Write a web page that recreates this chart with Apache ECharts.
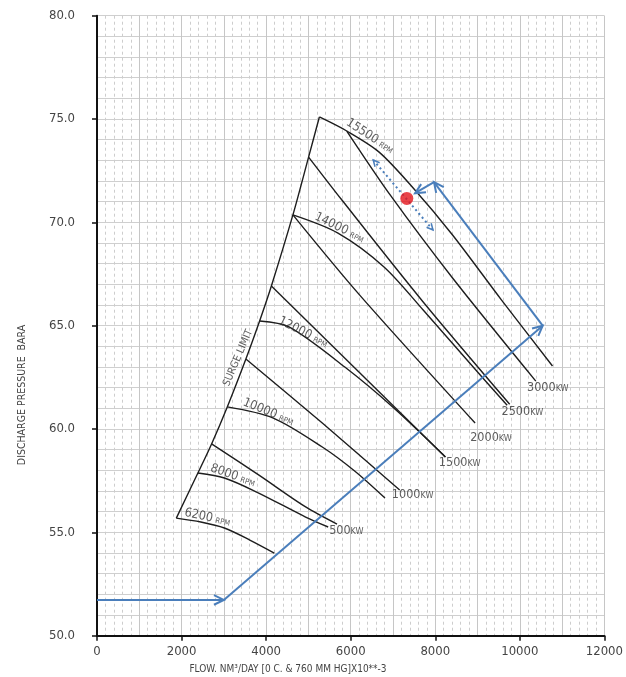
<!DOCTYPE html>
<html>
<head>
<meta charset="utf-8">
<script src="https://cdn.jsdelivr.net/npm/echarts@6/dist/echarts.min.js"></script>
<style>
  html, body { margin: 0; padding: 0; background: #fff; overflow: hidden; width: 626px; height: 677px; }
  #chart { position: absolute; left: 0; top: 0; width: 626px; height: 677px; }
</style>
</head>
<body>
<div id="chart"></div>
<script>
// Compressor performance map: discharge pressure vs. flow

// Axis ticks
const flowTicks = [0, 2000, 4000, 6000, 8000, 10000, 12000];
const pressureTicks = [50, 55, 60, 65, 70, 75, 80];

// Surge limit line [flow, pressure]
const surgeLimit = [[1876, 55.69], [2386, 57.87], [2710, 59.28], [3081, 61.07], [3521, 63.39],
  [3846, 65.23], [4124, 66.92], [4633, 70.36], [5004, 73.16], [5259, 75.10]];

// Speed curves
const rpm6200 = [[1876, 55.69], [2456, 55.50], [3012, 55.21], [3614, 54.63], [4193, 54.00]];
const rpm8000 = [[2386, 57.87], [3012, 57.63], [3776, 56.95], [4934, 55.74], [5467, 55.26]];
const rpm10000 = [[3081, 61.07], [4170, 60.53], [5328, 59.13], [6093, 57.97], [6811, 56.66]];
const rpm12000 = [[3846, 65.23], [4541, 64.94], [5861, 63.00], [7019, 61.02], [8240, 58.65]];
const rpm14000 = [[4633, 70.36], [5699, 69.48], [6788, 67.84], [7714, 65.76], [9104, 62.52], [9700, 61.15]];
const rpm15500 = [[5259, 75.10], [5907, 74.42], [6672, 73.40], [7483, 71.65], [8409, 69.39], [9568, 66.24], [10772, 63.05]];

// Power lines
const kw500 = [[2710, 59.28], [3822, 57.78], [4934, 56.23], [5676, 55.40]];
const kw1000 = [[3521, 63.39], [5328, 60.29], [7158, 57.05]];
const kw1500 = [[4124, 66.92], [8240, 58.65]];
const kw2000 = [[4633, 70.36], [6208, 66.49], [8942, 60.29]];
const kw2500 = [[5004, 73.16], [5792, 71.08], [7714, 66.15], [9760, 61.20]];
const kw3000 = [[5907, 74.42], [6950, 71.28], [8409, 67.31], [10378, 62.32]];

// Curve annotations
const speedLabelText = ['6200', '8000', '10000', '12000', '14000', '15500'];
const speedLabelAt = [[2039, 55.65], [2641, 57.82], [3405, 61.02], [4239, 64.99], [5097, 70.02], [5838, 74.61]];
const speedLabelAngle = [-12, -19, -22, -27, -26, -33];
const powerLabelText = ['500', '1000', '1500', '2000', '2500', '3000'];
const powerLabelAt = [[5490, 55.07], [6973, 56.81], [8085, 58.36], [8826, 59.57], [9568, 60.82], [10170, 61.98]];
const surgeLabelAt = [3336, 63.44];

// Operating path (arrows) and operating point
const opPath = [[0, 51.73], [3000, 51.73], [10540, 65.0], [7970, 71.95], [7522, 71.41]];
const adjustRange = [[6533, 73.02], [7946, 69.63]];
const opPoint = [7327, 71.16];

const FONT = "'Liberation Sans Narrow', 'DejaVu Sans Condensed', 'Roboto', sans-serif";
const INK = '#1e1e1e';
const BLUE = '#4a7ebb';

const chart = echarts.init(document.getElementById('chart'), null, { renderer: 'canvas', width: 626, height: 677 });

function curve(data, smooth) {
  return {
    type: 'line', data: data, smooth: smooth, symbol: 'none',
    lineStyle: { color: INK, width: 1.4 }, z: 3, silent: true
  };
}

function segments(points) {
  const out = [];
  for (let i = 0; i < points.length - 1; i++) {
    out.push([points[i][0], points[i][1], points[i + 1][0], points[i + 1][1]]);
  }
  return out;
}

function head(p, from, len, spread) {
  const ang = Math.atan2(p[1] - from[1], p[0] - from[0]);
  return [
    [p[0] - len * Math.cos(ang - spread), p[1] - len * Math.sin(ang - spread)],
    [p[0], p[1]],
    [p[0] - len * Math.cos(ang + spread), p[1] - len * Math.sin(ang + spread)]
  ];
}

function arrowItem(dashed, both) {
  return function (params, api) {
    const a = api.coord([api.value(0), api.value(1)]);
    const b = api.coord([api.value(2), api.value(3)]);
    const len = dashed ? 7 : 11;
    const kids = [{
      type: 'line',
      shape: { x1: a[0], y1: a[1], x2: b[0], y2: b[1] },
      style: { stroke: BLUE, lineWidth: 2, lineDash: dashed ? [2, 3] : null }
    }, {
      type: 'polyline',
      shape: { points: head(b, a, len, 0.45) },
      style: { stroke: BLUE, lineWidth: dashed ? 1.5 : 2, fill: null }
    }];
    if (both) {
      kids.push({
        type: 'polyline',
        shape: { points: head(a, b, len, 0.45) },
        style: { stroke: BLUE, lineWidth: 1.5, fill: null }
      });
    }
    return { type: 'group', children: kids };
  };
}

const hidden = { axisLine: { show: false }, axisTick: { show: false }, axisLabel: { show: false } };

const option = {
  animation: false,
  backgroundColor: '#fff',
  grid: { left: 97, right: 11, top: 15.7, bottom: 41.3 },
  xAxis: [{
    type: 'value', min: flowTicks[0], max: flowTicks[flowTicks.length - 1], interval: 2000,
    axisLine: { show: true, onZero: false, lineStyle: { color: '#111', width: 2 } },
    axisTick: { show: true, length: 5, lineStyle: { color: '#111', width: 1.5 } },
    axisLabel: { color: '#444', fontFamily: FONT, fontSize: 13, margin: 9, formatter: v => String(v) },
    splitLine: { show: false }, z: 5
  }, Object.assign({
    type: 'value', min: 0, max: 12000, interval: 1000,
    splitLine: { show: true, lineStyle: { color: '#c6c6c6', width: 1 } },
    minorTick: { show: false, splitNumber: 5 },
    minorSplitLine: { show: true, lineStyle: { color: '#cdcdcd', width: 1, type: [3, 3] } }
  }, hidden)],
  yAxis: [{
    type: 'value', min: pressureTicks[0], max: pressureTicks[pressureTicks.length - 1], interval: 5,
    axisLine: { show: true, onZero: false, lineStyle: { color: '#111', width: 2 } },
    axisTick: { show: true, length: 5, lineStyle: { color: '#111', width: 1.5 } },
    axisLabel: { color: '#444', fontFamily: FONT, fontSize: 13, margin: 22, formatter: v => v.toFixed(1) },
    splitLine: { show: false }, z: 5
  }, Object.assign({
    type: 'value', min: 50, max: 80, interval: 1,
    splitLine: { show: true, lineStyle: { color: '#cfcfcf', width: 1 } }
  }, hidden)],
  series: [
    curve(surgeLimit, 0.3),
    curve(rpm6200, 0.3), curve(rpm8000, 0.3), curve(rpm10000, 0.3),
    curve(rpm12000, 0.3), curve(rpm14000, 0.3), curve(rpm15500, 0.3),
    curve(kw500, 0.3), curve(kw1000, 0.3), curve(kw1500, false),
    curve(kw2000, 0.3), curve(kw2500, 0.3), curve(kw3000, 0.3),
    {
      type: 'scatter', symbolSize: 0, silent: true, z: 6,
      data: speedLabelText.map((t, i) => ({
        value: speedLabelAt[i], name: t,
        label: { rotate: speedLabelAngle[i] }
      })),
      label: {
        show: true, position: 'inside', align: 'left', verticalAlign: 'bottom',
        formatter: p => '{n|' + p.name + '} {u|RPM}',
        rich: {
          n: { fontFamily: FONT, fontSize: 12.5, color: '#333', verticalAlign: 'bottom' },
          u: { fontFamily: FONT, fontSize: 7.5, color: '#333', verticalAlign: 'bottom', padding: [0, 0, 1, 0] }
        }
      }
    },
    {
      type: 'scatter', symbolSize: 0, silent: true, z: 6,
      data: powerLabelText.map((t, i) => ({ value: powerLabelAt[i], name: t })),
      label: {
        show: true, position: 'inside', align: 'left', verticalAlign: 'middle',
        formatter: p => '{n|' + p.name + '}{u|KW}',
        rich: {
          n: { fontFamily: FONT, fontSize: 12.5, color: '#333', verticalAlign: 'bottom' },
          u: { fontFamily: FONT, fontSize: 9, color: '#333', verticalAlign: 'bottom', padding: [0, 0, 1, 0] }
        }
      }
    },
    {
      type: 'scatter', symbolSize: 0, silent: true, z: 6,
      data: [{ value: surgeLabelAt, name: 'SURGE LIMIT' }],
      label: {
        show: true, position: 'inside', align: 'center', verticalAlign: 'middle', rotate: 67,
        formatter: p => p.name, fontFamily: FONT, fontSize: 10.5, color: '#333'
      }
    },
    {
      type: 'custom', renderItem: arrowItem(false, false), silent: true, z: 7,
      encode: { x: [0, 2], y: [1, 3] },
      data: segments(opPath)
    },
    {
      type: 'custom', renderItem: arrowItem(true, true), silent: true, z: 7,
      encode: { x: [0, 2], y: [1, 3] },
      data: segments(adjustRange)
    },
    {
      type: 'scatter', symbol: 'circle', symbolSize: 13, silent: true, z: 8,
      itemStyle: { color: '#e3141b' },
      data: [opPoint]
    }
  ],
  graphic: [{
    type: 'text', x: 22, y: 395, rotation: Math.PI / 2,
    style: {
      text: 'DISCHARGE PRESSURE  BARA', fill: '#444', font: '10.5px ' + FONT,
      align: 'center', verticalAlign: 'middle'
    }
  }, {
    type: 'text', x: 288, y: 669,
    style: {
      text: 'FLOW. NM³/DAY [0 C. & 760 MM HG]X10**-3', fill: '#444', font: '10px ' + FONT,
      align: 'center', verticalAlign: 'middle'
    }
  }]
};

chart.setOption(option);
</script>
</body>
</html>
